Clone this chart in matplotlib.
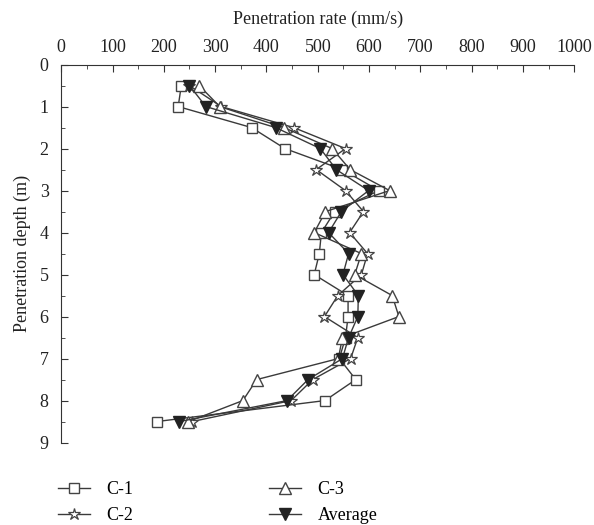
import matplotlib
matplotlib.use("Agg")
import matplotlib.pyplot as plt
from matplotlib.ticker import MultipleLocator

# depth (m) and penetration rate (mm/s)
depth = [0.5, 1.0, 1.5, 2.0, 2.5, 3.0, 3.5, 4.0, 4.5, 5.0, 5.5, 6.0, 6.5, 7.0, 7.5, 8.0, 8.5]
c1 = [234, 228, 371, 436, 548, 619, 533, 507, 503, 493, 559, 559, 554, 542, 574, 514, 186]
c2 = [250, 312, 453, 554, 497, 554, 589, 562, 597, 585, 539, 513, 578, 564, 490, 448, 255]
c3 = [269, 309, 434, 528, 563, 640, 515, 493, 585, 572, 645, 658, 548, 540, 381, 354, 248]
avg = [250, 282, 418, 505, 536, 599, 546, 521, 560, 549, 579, 578, 560, 548, 481, 440, 230]

plt.rcParams['font.family'] = ['Liberation Serif', 'DejaVu Serif']
plt.rcParams['font.size'] = 13

fig = plt.figure(figsize=(5.94, 5.25), dpi=100)
ax = fig.add_axes([0.103, 0.157, 0.864, 0.72])

line_col = '#3a3a3a'
ax.plot(c1, depth, '-s', color=line_col, lw=1, ms=7, mfc='white', mec='#444444', mew=1, label='C-1')
ax.plot(c2, depth, '-*', color=line_col, lw=1, ms=9, mfc='white', mec='#444444', mew=0.9, label='C-2')
ax.plot(c3, depth, '-^', color=line_col, lw=1, ms=8, mfc='white', mec='#444444', mew=1, label='C-3')
ax.plot(avg, depth, '-v', color=line_col, lw=1, ms=8, mfc='#222222', mec='#222222', mew=1, label='Average')

ax.set_xlim(0, 1000)
ax.set_ylim(9, 0)
ax.xaxis.set_major_locator(MultipleLocator(100))
ax.xaxis.set_minor_locator(MultipleLocator(50))
ax.yaxis.set_major_locator(MultipleLocator(1))
ax.yaxis.set_minor_locator(MultipleLocator(0.5))
ax.xaxis.tick_top()
ax.xaxis.set_label_position('top')
ax.tick_params(which='both', direction='in', colors='#333333', labelcolor='#222222', labelsize=13)
ax.tick_params(which='major', length=5)
ax.tick_params(which='minor', length=3)
ax.tick_params(axis='y', pad=9)
ax.tick_params(axis='x', pad=6)

for side in ['right', 'bottom']:
    ax.spines[side].set_visible(False)
for side in ['top', 'left']:
    ax.spines[side].set_color('#333333')

ax.set_xlabel('Penetration rate (mm/s)', labelpad=11, color='#222222', fontsize=13)
ax.set_ylabel('Penetration depth (m)', labelpad=6, color='#222222', fontsize=13)

handles, labels = ax.get_legend_handles_labels()
fig.legend(handles, labels, ncol=2, loc='lower left', bbox_to_anchor=(0.07, -0.03),
           frameon=False, columnspacing=7.5, handlelength=1.8, handletextpad=0.9,
           labelspacing=0.5, fontsize=13)

fig.savefig('out.png', dpi=100)
